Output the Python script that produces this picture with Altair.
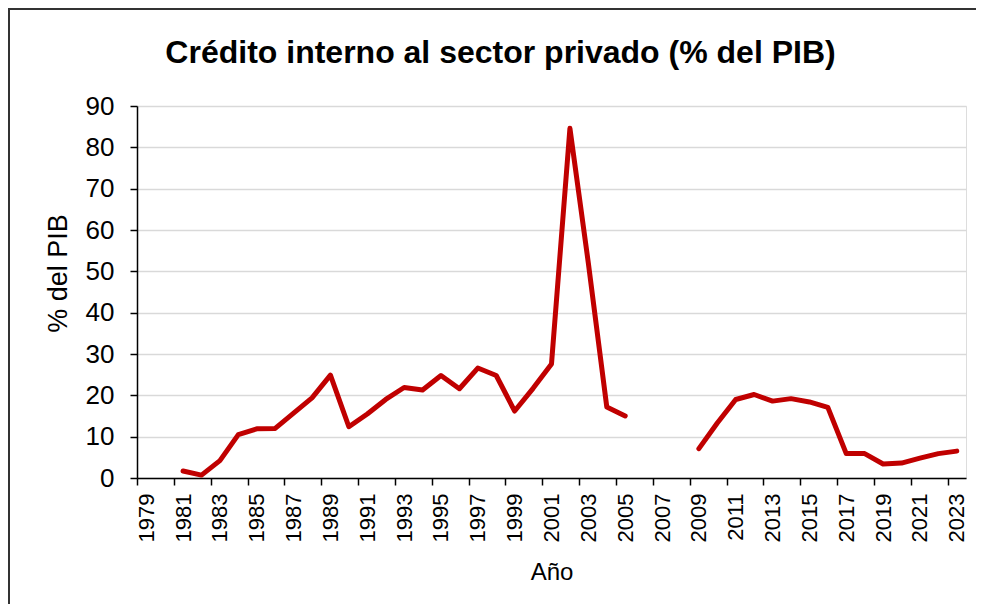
import altair as alt
import pandas as pd

# ---- data ----
years = list(range(1979, 2024))
credit = [None, None,
          1.7, 0.7, 4.2, 10.5, 11.9, 12.0, 15.7, 19.4, 24.9, 12.4,
          15.5, 19.0, 21.9, 21.3, 24.8, 21.6, 26.6, 24.8, 16.2, 21.7,
          27.6, 84.6, 52.0, 17.2, 15.0,
          None, None, None,
          7.1, 13.3, 19.0, 20.2, 18.6, 19.2, 18.4, 17.1, 5.9, 5.9,
          3.4, 3.6, 4.8, 5.9, 6.5]
label_years = list(range(1979, 2024, 2))
y_ticks = list(range(0, 100, 10))

TITLE = "Crédito interno al sector privado (% del PIB)"
FONT = "Liberation Sans"

# split into contiguous segments so gaps stay gaps
rows = []
seg = 0
prev_missing = True
for yr, v in zip(years, credit):
    if v is None:
        prev_missing = True
        continue
    if prev_missing:
        seg += 1
        prev_missing = False
    rows.append({"year": yr, "value": v, "seg": seg})
df = pd.DataFrame(rows)

W, H = 829, 372
PAD = {"left": 129, "top": 98, "right": 10, "bottom": 126}

x_scale = alt.Scale(domain=[years[0] - 0.5, years[-1] + 0.5], nice=False, zero=False)
y_scale = alt.Scale(domain=[0, 90], nice=False)

x_axis = alt.Axis(
    values=[y - 0.5 for y in label_years],
    labelExpr="format(datum.value + 0.5, 'd')",
    labelAngle=270, labelAlign="right", labelBaseline="middle",
    labelOffset=9.2, labelPadding=8, labelFontSize=22, labelFont=FONT,
    labelColor="black", labelOverlap=False, labelFlush=False,
    tickSize=7, tickColor="black", tickWidth=1.5,
    domainColor="black", domainWidth=1.5, grid=False,
    title="Año", titleFontSize=24, titleFont=FONT, titleFontWeight="normal",
    titleColor="black", titlePadding=19,
)
y_axis = alt.Axis(
    values=y_ticks, labelFontSize=26, labelFont=FONT, labelColor="black",
    labelPadding=16, tickSize=7, tickColor="black", tickWidth=1.5,
    domainColor="black", domainWidth=1.5,
    grid=True, gridColor="#d9d9d9", gridWidth=1.5,
    title="% del PIB", titleFontSize=27, titleFont=FONT, titleFontWeight="normal",
    titleColor="black", titleAngle=270, titleAlign="center", titleBaseline="middle",
    titleX=-79, titleY=167,
)

line = alt.Chart(df).mark_line(
    color="#C00000", strokeWidth=5, strokeCap="round", strokeJoin="round"
).encode(
    x=alt.X("year:Q", scale=x_scale, axis=x_axis),
    y=alt.Y("value:Q", scale=y_scale, axis=y_axis),
    detail="seg:N",
)

frame_df = pd.DataFrame({"k": [0]})
frame_top = alt.Chart(frame_df).mark_rule(color="#333333", strokeWidth=2).encode(
    x=alt.value(-PAD["left"]), x2=alt.value(W + PAD["right"]), y=alt.value(-PAD["top"] + 1)
)
frame_left = alt.Chart(frame_df).mark_rule(color="#333333", strokeWidth=2).encode(
    x=alt.value(-PAD["left"] + 1), y=alt.value(-PAD["top"]), y2=alt.value(H + PAD["bottom"])
)

chart = alt.layer(line, frame_top, frame_left).properties(
    width=W, height=H,
    autosize=alt.AutoSizeParams(type="none"),
    padding=PAD,
    title=alt.TitleParams(
        TITLE, anchor="middle", dx=-51, fontSize=32, font=FONT, fontWeight="bold",
        color="black", baseline="alphabetic", offset=-88,
    ),
).configure_view(stroke=None).configure(background="white")

chart.save("out.html", embed_options={"renderer": "svg", "actions": False})
